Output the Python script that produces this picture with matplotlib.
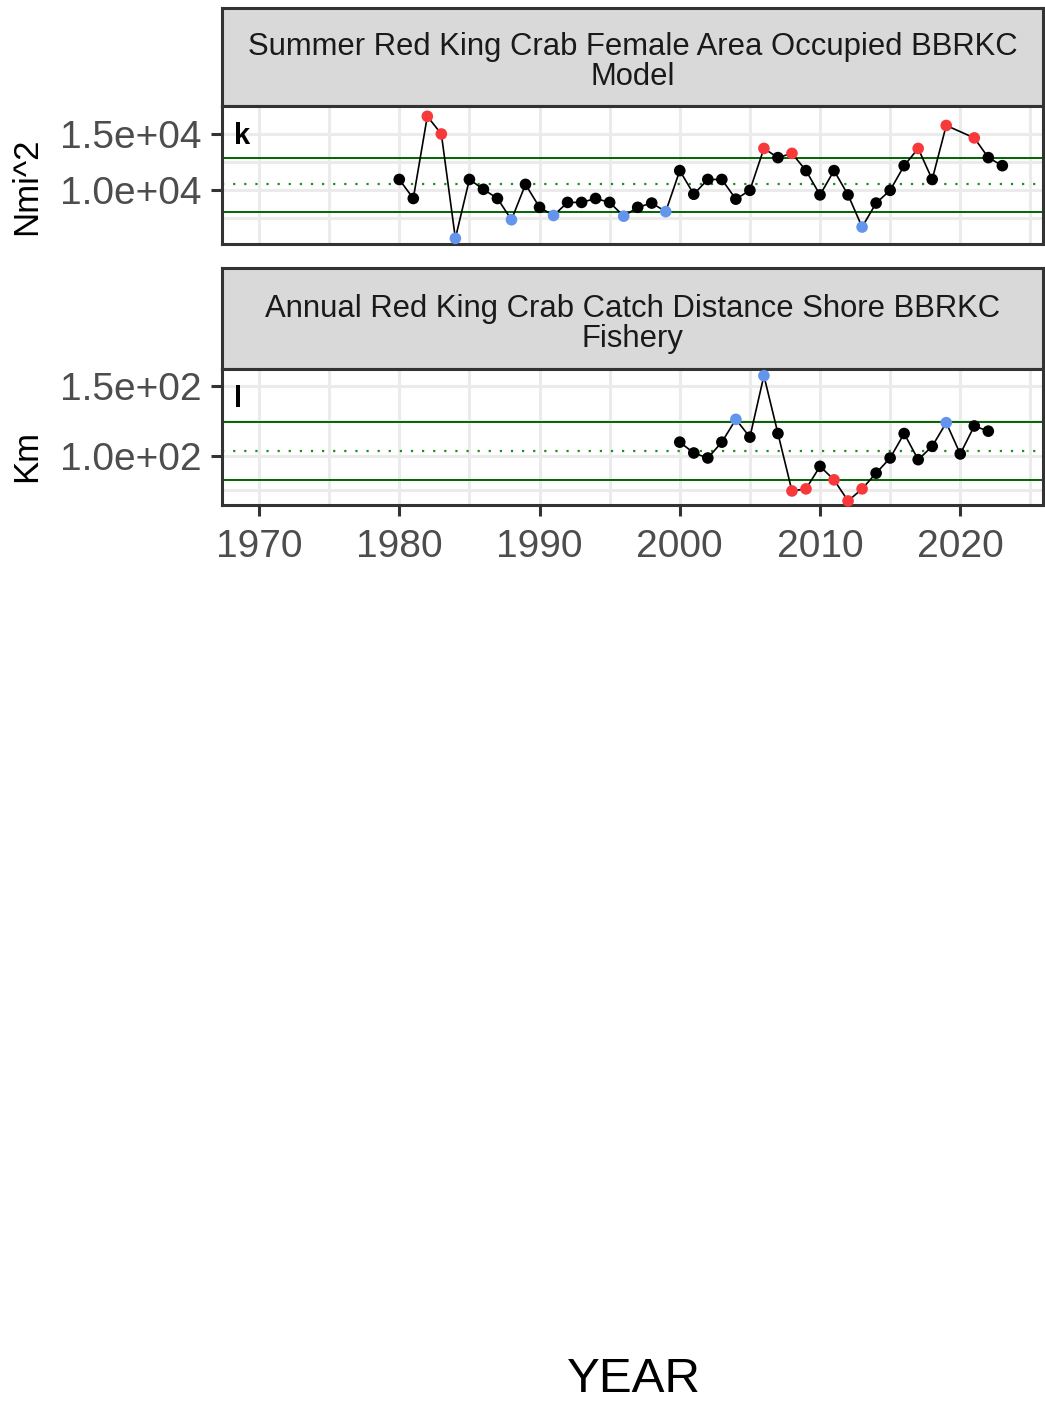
import matplotlib
matplotlib.use("Agg")
import matplotlib.pyplot as plt
import numpy as np

plt.rcParams['font.family'] = ['Liberation Sans', 'DejaVu Sans']

# ---- data ----
area_years = [1980, 1981, 1982, 1983, 1984, 1985, 1986, 1987, 1988, 1989,
              1990, 1991, 1992, 1993, 1994, 1995, 1996, 1997, 1998, 1999,
              2000, 2001, 2002, 2003, 2004, 2005, 2006, 2007, 2008, 2009,
              2010, 2011, 2012, 2013, 2014, 2015, 2016, 2017, 2018, 2019,
              2021, 2022, 2023]
area_values = [10940, 9240, 16580, 15000, 5680, 10940, 10060, 9240, 7340, 10500,
               8450, 7720, 8890, 8890, 9240, 8890, 7660, 8450, 8830, 8070,
               11730, 9620, 10940, 10940, 9180, 9970, 13710, 12890, 13270, 11730,
               9560, 11730, 9560, 6690, 8830, 9970, 12170, 13710, 10940, 15760,
               14650, 12890, 12170]
# 1 = above upper band, -1 = below lower band, 0 = inside
area_flag = [0, 0, 1, 1, -1, 0, 0, 0, -1, 0,
             0, -1, 0, 0, 0, 0, -1, 0, 0, -1,
             0, 0, 0, 0, 0, 0, 1, 0, 1, 0,
             0, 0, 0, -1, 0, 0, 0, 1, 0, 1,
             1, 0, 0]
area_mean = 10530
area_upper = 12890
area_lower = 8070

dist_years = list(range(2000, 2023))
dist_values = [109.7, 101.9, 98.3, 109.7, 126.1, 113.3, 157.5, 115.9, 74.6, 76.1,
               92.3, 82.6, 67.4, 76.1, 87.4, 98.3, 115.9, 97.1, 106.7, 123.7,
               101.2, 121.3, 117.6]
dist_flag = [0, 0, 0, 0, 1, 0, 1, 0, -1, -1,
             0, -1, -1, -1, 0, 0, 0, 0, 0, 1,
             0, 0, 0]
dist_mean = 103.1
dist_upper = 124.1
dist_lower = 82.6

RED, BLUE = '#F8393B', '#6495ED'

W, H = 1045, 1405
fig = plt.figure(figsize=(W / 100, H / 100), dpi=100)


def box(left, top, right, bottom):
    return [left / W, (H - bottom) / H, (right - left) / W, (bottom - top) / H]


def strip(rect, text):
    ax = fig.add_axes(rect)
    ax.set_facecolor('#D9D9D9')
    ax.set_xticks([])
    ax.set_yticks([])
    for s in ax.spines.values():
        s.set_color('#333333')
        s.set_linewidth(2.2)
    ax.text(0.5, 0.45, text, ha='center', va='center', fontsize=22.3,
            color='#1A1A1A', transform=ax.transAxes, linespacing=1.0)


def panel(rect, years, values, flags, colmap, mean, upper, lower, ylim,
          yticks, yminor, yticklabels, ylabel, label_y, letter, xlabels):
    ax = fig.add_axes(rect)
    ax.set_xlim(1967.36, 2025.9)
    ax.set_ylim(*ylim)
    ax.set_xticks(np.arange(1970, 2021, 10))
    ax.set_xticks(np.arange(1975, 2026, 10), minor=True)
    ax.set_yticks(yticks)
    ax.set_yticks(yminor, minor=True)
    ax.set_yticklabels(yticklabels)
    ax.grid(True, which='both', color='#EBEBEB', linewidth=2.2, zorder=0)
    ax.tick_params(which='minor', left=False, bottom=False)
    ax.tick_params(which='major', length=8, width=2.2, color='#333333',
                   labelsize=28, labelcolor='#4D4D4D')
    ax.tick_params(axis='y', pad=7)
    ax.tick_params(axis='x', pad=9)
    if not xlabels:
        ax.tick_params(axis='x', which='major', bottom=False, labelbottom=False)
    for s in ax.spines.values():
        s.set_color('#333333')
        s.set_linewidth(2.2)

    ax.axhline(upper, color='#006400', linewidth=1.4, zorder=2)
    ax.axhline(lower, color='#006400', linewidth=1.4, zorder=2)
    ax.axhline(mean, color='#228B22', linewidth=1.6, linestyle=(0, (1, 4)), zorder=2)

    ax.plot(years, values, color='black', linewidth=1.2, zorder=3)
    ax.scatter(years, values, c=[colmap[f] for f in flags], s=70,
               linewidths=0, zorder=4, clip_on=False)
    fig.text(27 / W, 1 - label_y / H, ylabel, rotation=90, ha='center',
             va='center', fontsize=25, color='black')
    ax.text(0.015, 0.78, letter, transform=ax.transAxes, fontsize=21,
            fontweight='bold', ha='left', va='center', color='black')
    return ax


strip(box(222, 8, 1043, 106),
      "Summer Red King Crab Female Area Occupied BBRKC\nModel")
panel(box(222, 106, 1043, 244), area_years, area_values, area_flag,
      {1: RED, -1: BLUE, 0: 'black'},
      area_mean, area_upper, area_lower, (5175, 17193),
      [10000, 15000], [7500, 12500, 17500], ['1.0e+04', '1.5e+04'],
      'Nmi^2', 186, 'k', False)

strip(box(222, 268, 1043, 369),
      "Annual Red King Crab Catch Distance Shore BBRKC\nFishery")
panel(box(222, 369, 1043, 505), dist_years, dist_values, dist_flag,
      {1: BLUE, -1: RED, 0: 'black'},
      dist_mean, dist_upper, dist_lower, (64.5, 162.3),
      [100, 150], [75, 125], ['1.0e+02', '1.5e+02'],
      'Km', 456, 'l', True)

fig.text(634 / W, 1 - 1380 / H, 'YEAR', ha='center', va='center',
         fontsize=35.5, color='black')

fig.savefig('out.png', dpi=100)
